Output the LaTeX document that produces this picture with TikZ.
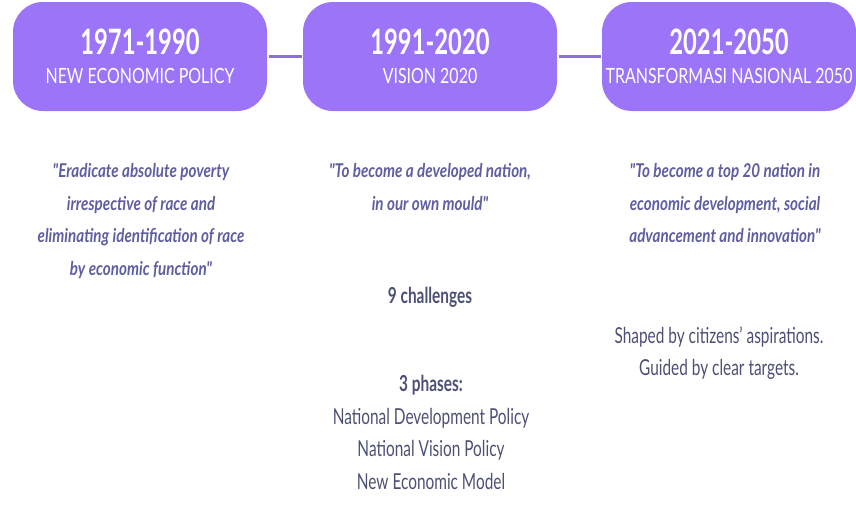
\documentclass[tikz,border=0pt]{standalone}
\usepackage{fontspec}
\setmainfont{Lato}[FakeStretch=0.70]
\newfontfamily\yearfont{Lato}[FakeStretch=0.68]
\newfontfamily\erafont{Lato}[FakeStretch=0.76]
\newfontfamily\quotefont{Lato}[FakeStretch=0.80]
\usetikzlibrary{positioning}

\definecolor{eraFill}{HTML}{9B74F7}
\definecolor{linkLine}{HTML}{8C6FD8}
\definecolor{quoteText}{HTML}{5E5EA0}
\definecolor{bodyText}{HTML}{4C5075}

\begin{document}
\begin{tikzpicture}[x=1pt,y=-1pt,node distance=33pt,line width=3pt]

		\tikzset{era/.style={rectangle, rounded corners=30pt, draw=none,
								fill=eraFill, text=white, align=center,
								minimum width=254pt, minimum height=109pt,
								inner sep=0pt, font=\erafont\fontsize{21}{29}\selectfont},
				 quote/.style={anchor=north, inner sep=0pt, align=center,
								text=quoteText,
								font=\quotefont\fontsize{19}{32.5}\selectfont\bfseries\itshape},
				 plain/.style={anchor=north, inner sep=0pt, align=center,
								text=bodyText,
								font=\fontsize{22}{32.5}\selectfont}}

		\useasboundingbox (0,0) rectangle (856,506);

		\node[era] (E1) at (140,56.5) {{\yearfont\fontsize{35}{29}\selectfont\bfseries 1971-1990}\\NEW ECONOMIC POLICY};
		\node[era, right=of E1] (E2) {{\yearfont\fontsize{35}{29}\selectfont\bfseries 1991-2020}\\VISION 2020};
		\node[era, right=42pt of E2] (E3) {{\yearfont\fontsize{35}{29}\selectfont\bfseries 2021-2050}\\TRANSFORMASI NASIONAL 2050};

		\draw[linkLine]
		(E1) -- (E2)
		(E2) -- (E3);

		\node[quote] (Q1) at (141,162) {"Eradicate absolute poverty\\irrespective of race and\\eliminating identification of race\\by economic function"};
		\node[quote] (Q2) at (430,162) {"To become a developed nation,\\in our own mould"};
		\node[quote] (Q3) at (725,162) {"To become a top 20 nation in\\economic development, social\\advancement and innovation"};

		\node[plain, font=\fontsize{22}{32.5}\selectfont\bfseries] (C2) at (430,286) {9 challenges};
		\node[plain] (P2) at (431,374) {\textbf{3 phases:}\\National Development Policy\\National Vision Policy\\New Economic Model};
		\node[plain] (S3) at (719,325) {Shaped by citizens' aspirations.\\Guided by clear targets.};
\end{tikzpicture}
\end{document}
